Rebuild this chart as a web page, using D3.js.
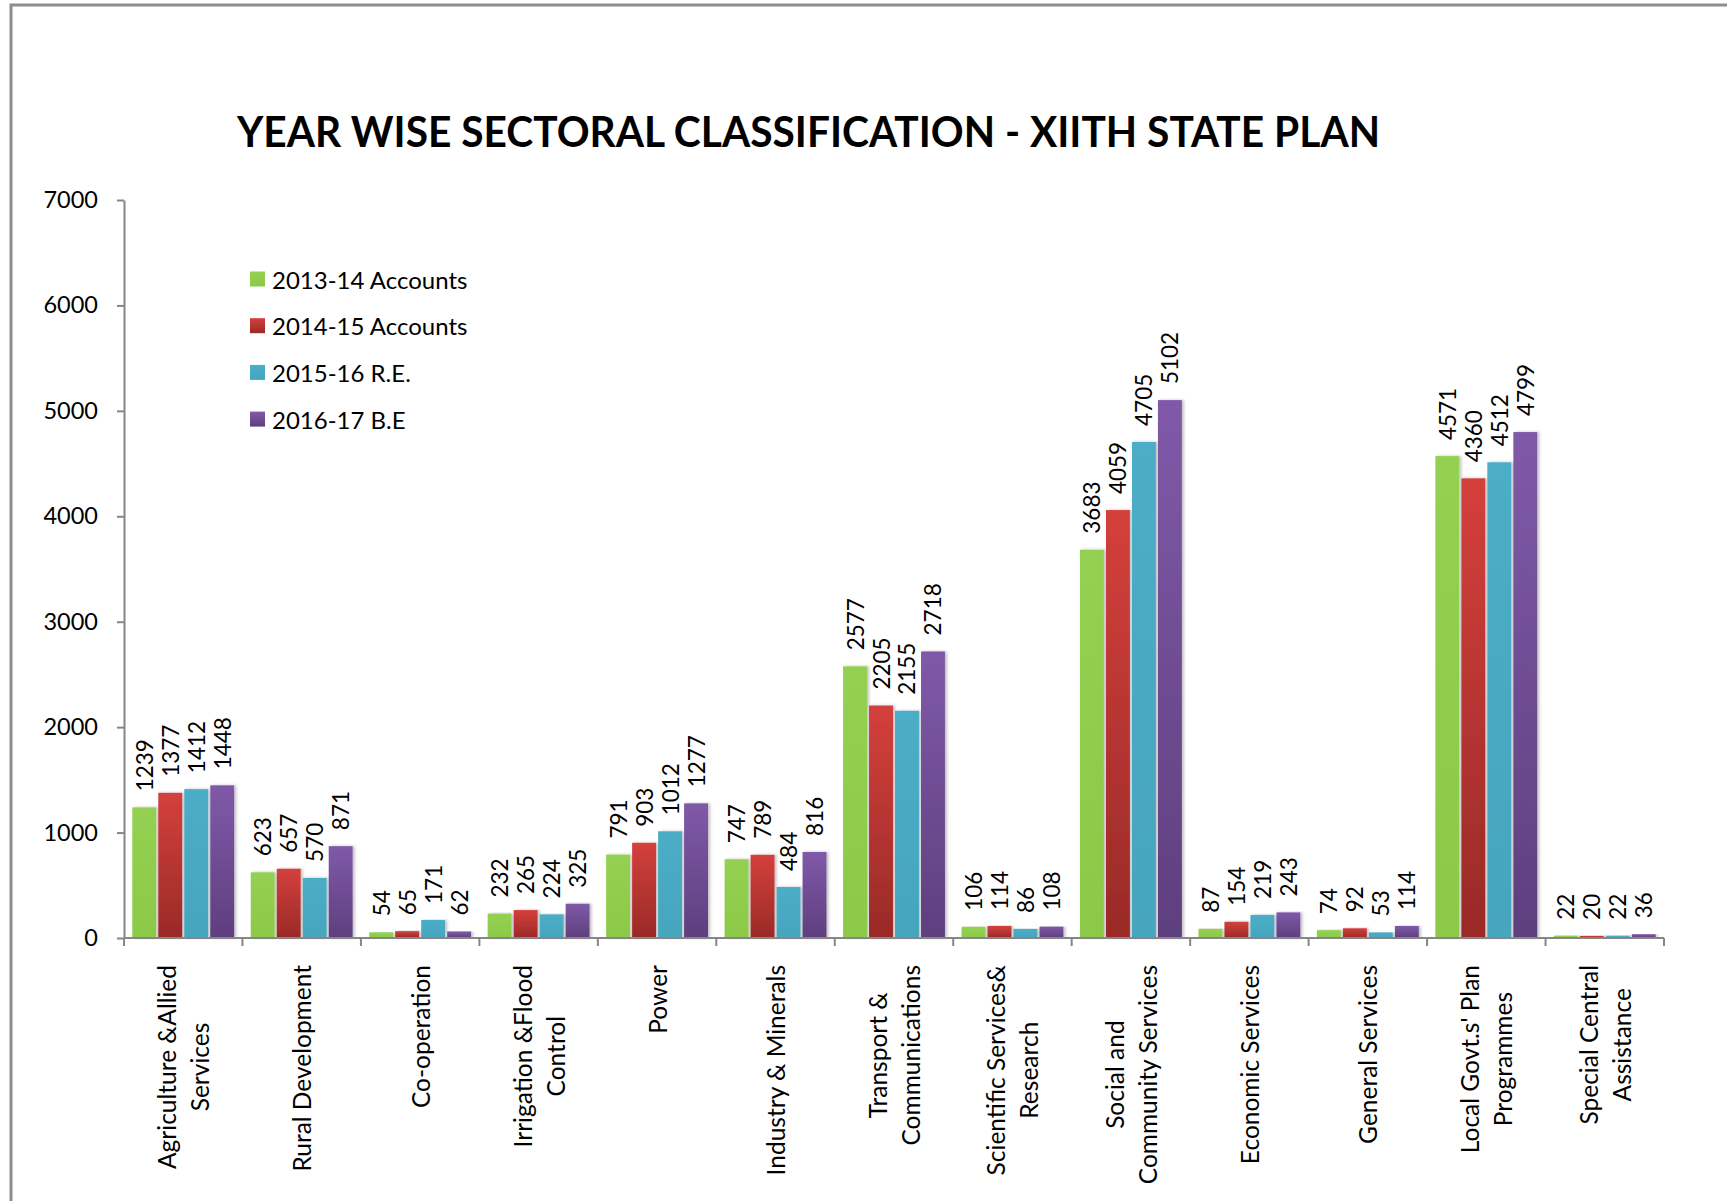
<!DOCTYPE html>
<html>
<head>
<meta charset="utf-8">
<script src="https://cdn.jsdelivr.net/npm/d3@7"></script>
<style>
  body { margin: 0; background: #fff; }
  text { font-family: Lato, "Open Sans", sans-serif; fill: #000; }
</style>
</head>
<body>
<div id="chart"></div>
<script>
// Sector names, broken into lines the way the axis shows them
const categories = [
  ['Agriculture &Allied', 'Services'],
  ['Rural Development'],
  ['Co-operation'],
  ['Irrigation &Flood', 'Control'],
  ['Power'],
  ['Industry & Minerals'],
  ['Transport &', 'Communications'],
  ['Scientific Services&', 'Research'],
  ['Social and', 'Community Services'],
  ['Economic Services'],
  ['General Services'],
  ["Local Govt.s' Plan", 'Programmes'],
  ['Special Central', 'Assistance']
];

const seriesNames = ['2013-14 Accounts', '2014-15 Accounts', '2015-16 R.E.', '2016-17 B.E'];

const accounts1314 = [1239, 623, 54, 232, 791, 747, 2577, 106, 3683, 87, 74, 4571, 22];
const accounts1415 = [1377, 657, 65, 265, 903, 789, 2205, 114, 4059, 154, 92, 4360, 20];
const re1516 = [1412, 570, 171, 224, 1012, 484, 2155, 86, 4705, 219, 53, 4512, 22];
const be1617 = [1448, 871, 62, 325, 1277, 816, 2718, 108, 5102, 243, 114, 4799, 36];

const yTicks = [0, 1000, 2000, 3000, 4000, 5000, 6000, 7000];

const titleText = 'YEAR WISE SECTORAL CLASSIFICATION - XIITH STATE PLAN';

const seriesValues = [accounts1314, accounts1415, re1516, be1617];

// colours: [top, bottom] of each bar gradient
const seriesColors = [
  ['#94d152', '#8cc948'],
  ['#d4403c', '#992a27'],
  ['#4cadc7', '#46a5be'],
  ['#8059a9', '#5e3f7e']
];

const width = 1727, height = 1201;
const plot = { left: 124, right: 1664, top: 200, bottom: 938 };

const svg = d3.select('#chart')
  .append('svg')
  .attr('width', width)
  .attr('height', height);

const defs = svg.append('defs');

seriesColors.forEach((c, i) => {
  const g = defs.append('linearGradient')
    .attr('id', 'bar-grad-' + i)
    .attr('x1', 0).attr('y1', 0)
    .attr('x2', 0).attr('y2', 1);
  g.append('stop').attr('offset', '0%').attr('stop-color', c[0]);
  g.append('stop').attr('offset', '100%').attr('stop-color', c[1]);
});

const shadow = defs.append('filter')
  .attr('id', 'bar-shadow')
  .attr('x', '-20%').attr('y', '-5%')
  .attr('width', '150%').attr('height', '110%');
shadow.append('feDropShadow')
  .attr('dx', 2).attr('dy', 0)
  .attr('stdDeviation', 1.5)
  .attr('flood-color', '#000')
  .attr('flood-opacity', 0.25);

// outer frame
svg.append('rect')
  .attr('x', 11).attr('y', 5)
  .attr('width', width + 20).attr('height', height + 20)
  .attr('fill', '#fff')
  .attr('stroke', '#8e8e8e')
  .attr('stroke-width', 3);

// Title
svg.append('text')
  .attr('x', 237)
  .attr('y', 147)
  .attr('textLength', 1143)
  .attr('lengthAdjust', 'spacingAndGlyphs')
  .style('font-size', '42px')
  .style('font-weight', 'bold')
  .text(titleText);

// Scales
const x0 = d3.scaleBand()
  .domain(d3.range(categories.length))
  .range([plot.left, plot.right])
  .paddingInner(0.14)
  .paddingOuter(0.07);

const x1 = d3.scaleBand()
  .domain(d3.range(seriesNames.length))
  .range([0, x0.bandwidth()])
  .paddingInner(0.08);

const y = d3.scaleLinear()
  .domain([0, 7000])
  .range([plot.bottom, plot.top]);

// Y axis
const yAxis = svg.append('g')
  .attr('transform', `translate(${plot.left},0)`)
  .call(d3.axisLeft(y)
    .tickValues(yTicks)
    .tickFormat(d3.format('d'))
    .tickSize(7)
    .tickSizeOuter(0)
    .tickPadding(19));
yAxis.selectAll('path, line').attr('stroke', '#868686').attr('stroke-width', 2);
yAxis.selectAll('text')
  .style('font-size', '23.5px')
  .style('font-family', 'Lato, sans-serif')
  .attr('fill', '#000');

// Bars
const groups = svg.append('g')
  .selectAll('g')
  .data(categories.map((c, i) => i))
  .join('g')
  .attr('transform', i => `translate(${x0(i)},0)`);

groups.selectAll('rect')
  .data(i => seriesValues.map((vals, s) => ({ s, v: vals[i] })))
  .join('rect')
  .attr('x', d => x1(d.s))
  .attr('y', d => y(d.v))
  .attr('width', x1.bandwidth())
  .attr('height', d => y(0) - y(d.v))
  .attr('fill', d => `url(#bar-grad-${d.s})`)
  .attr('filter', 'url(#bar-shadow)');

// Data labels
groups.selectAll('text.value')
  .data(i => seriesValues.map((vals, s) => ({ s, v: vals[i] })))
  .join('text')
  .attr('class', 'value')
  .attr('transform', d => `translate(${x1(d.s) + x1.bandwidth() / 2},${y(d.v) - 16}) rotate(-90)`)
  .attr('text-anchor', 'start')
  .attr('dominant-baseline', 'central')
  .style('font-size', '22.5px')
  .text(d => d.v);

// X axis line and boundary ticks
const step = x0.step();
const edge0 = x0(0) - step * x0.paddingOuter();
const xAxis = svg.append('g').attr('class', 'x-axis');
xAxis.append('line')
  .attr('x1', plot.left).attr('x2', plot.right)
  .attr('y1', y(0)).attr('y2', y(0))
  .attr('stroke', '#868686').attr('stroke-width', 2);
xAxis.selectAll('line.tick')
  .data(d3.range(categories.length + 1))
  .join('line')
  .attr('class', 'tick')
  .attr('x1', i => edge0 + i * step).attr('x2', i => edge0 + i * step)
  .attr('y1', y(0)).attr('y2', y(0) + 8)
  .attr('stroke', '#868686').attr('stroke-width', 2);

// Category labels (rotated, lines centred inside the block)
const labelTop = 965;
const lineGap = 33;
categories.forEach((lines, i) => {
  const cx = x0(i) + x0.bandwidth() / 2;
  const g = svg.append('g');
  const texts = lines.map(l => g.append('text')
    .attr('text-anchor', 'middle')
    .attr('dominant-baseline', 'central')
    .style('font-size', '24.5px')
    .text(l));
  const maxLen = d3.max(texts, t => t.node().getComputedTextLength());
  texts.forEach((t, j) => {
    const lx = cx + (j - (lines.length - 1) / 2) * lineGap;
    t.attr('transform', `translate(${lx},${labelTop + maxLen / 2}) rotate(-90)`);
  });
});

// Legend
const legend = svg.append('g')
  .attr('transform', 'translate(250,279)');
const items = legend.selectAll('g')
  .data(seriesNames)
  .join('g')
  .attr('transform', (d, i) => `translate(0,${i * 46.7})`);
items.append('rect')
  .attr('x', 0).attr('y', -7.5)
  .attr('width', 15).attr('height', 15)
  .attr('fill', (d, i) => `url(#bar-grad-${i})`);
items.append('text')
  .attr('x', 22)
  .attr('dominant-baseline', 'central')
  .style('font-size', '24px')
  .text(d => d);
</script>
</body>
</html>
